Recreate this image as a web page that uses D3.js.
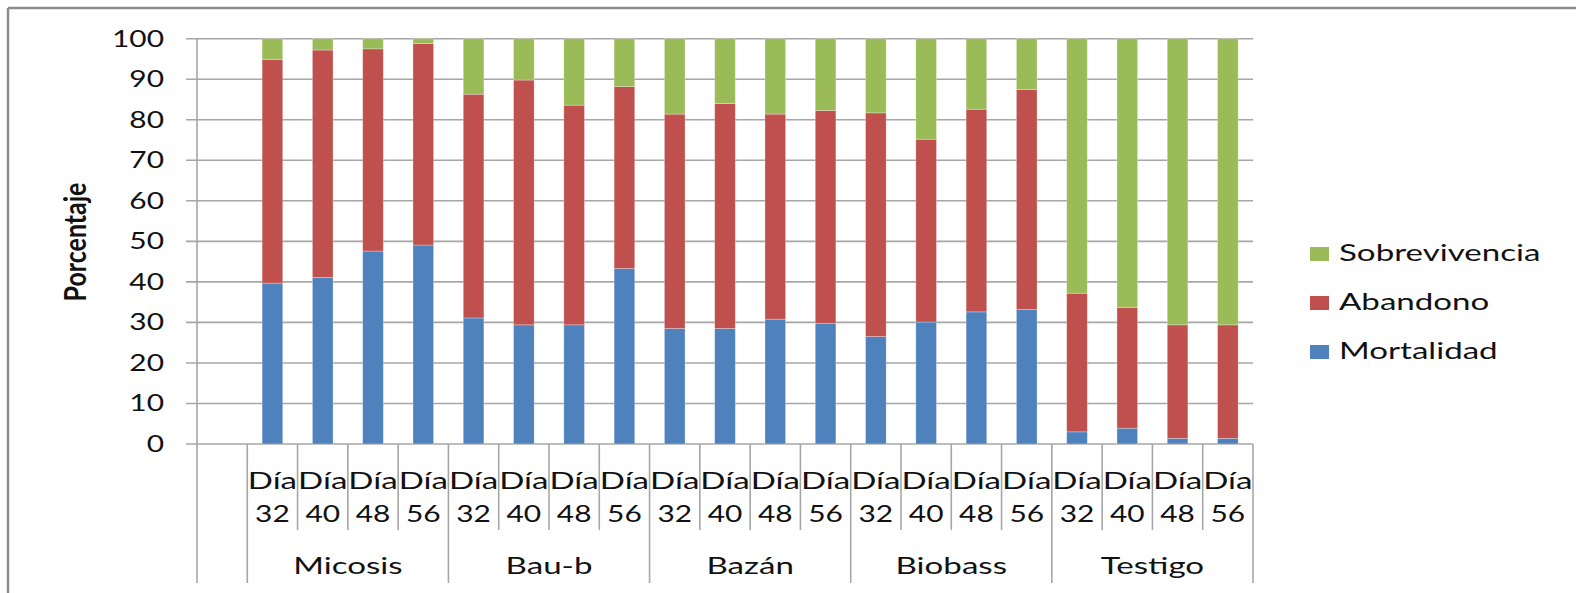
<!DOCTYPE html>
<html lang="es">
<head>
    <meta charset="UTF-8" />
    <title>Porcentaje por tratamiento</title>
    <script src="https://d3js.org/d3.v7.min.js"></script>
    <style>
        body { margin: 0; background: #fff; }
        text { font-family: Lato, "Liberation Sans", sans-serif; fill: #111; }
    </style>
</head>
<body>
    <script>
        // data
        const groups = ["Micosis", "Bau-b", "Bazán", "Biobass", "Testigo"];
        const days = ["32", "40", "48", "56"];
        const seriesNames = ["Mortalidad", "Abandono", "Sobrevivencia"];
        const mortalidad = [39.7, 41.1, 47.6, 49.1, 31.1, 29.4, 29.4, 43.3, 28.5, 28.5, 30.8, 29.8, 26.5, 30.1, 32.6, 33.2, 3.0, 3.9, 1.4, 1.4];
        const abandono = [55.2, 56.1, 49.9, 49.7, 55.2, 60.4, 54.2, 44.9, 52.9, 55.5, 50.6, 52.5, 55.2, 45.1, 50.0, 54.3, 34.2, 29.8, 28.0, 28.0];
        const sobrevivencia = [5.1, 2.8, 2.5, 1.2, 13.7, 10.2, 16.4, 11.8, 18.6, 16.0, 18.6, 17.7, 18.3, 24.8, 17.4, 12.5, 62.8, 66.3, 70.6, 70.6];
        const yTicks = [0, 10, 20, 30, 40, 50, 60, 70, 80, 90, 100];
        const colors = ["#4f81bd", "#c0504d", "#9bbb59"];

        const W = 1576, H = 593;
        const SX = 1.3;   // the original picture is stretched sideways (digits)
        const SXW = 1.44; // same, for words (Lato runs narrower than the original face)
        const grid = "#a6a6a6";

        // rows for the stack
        const rows = [];
        groups.forEach((g, gi) => days.forEach((d, di) => {
            const i = gi * days.length + di;
            rows.push({ key: g + "|" + d, group: g, day: d,
                Mortalidad: mortalidad[i], Abandono: abandono[i], Sobrevivencia: sobrevivencia[i] });
        }));
        const slots = ["blank"].concat(rows.map(r => r.key));

        const x = d3.scaleBand().domain(slots).range([197, 1253]).padding(0);
        const y = d3.scaleLinear().domain([0, 100]).range([444, 38.7]);
        const color = d3.scaleOrdinal().domain(seriesNames).range(colors);
        const barW = x.bandwidth() * 0.41;

        const svg = d3.select("body").append("svg")
            .attr("width", W).attr("height", H);

        // cropped outer frame (top and left only)
        svg.append("line").attr("x1", 8).attr("x2", W).attr("y1", 8).attr("y2", 8)
            .attr("stroke", "#8c8c8c").attr("stroke-width", 2.5);
        svg.append("line").attr("x1", 8).attr("x2", 8).attr("y1", 8).attr("y2", H)
            .attr("stroke", "#8c8c8c").attr("stroke-width", 2.5);

        // gridlines + ticks
        svg.append("g").selectAll("line").data(yTicks).join("line")
            .attr("x1", 186).attr("x2", x.range()[1])
            .attr("y1", d => y(d)).attr("y2", d => y(d))
            .attr("stroke", grid).attr("stroke-width", 1.6);

        svg.append("g").selectAll("text").data(yTicks).join("text")
            .attr("transform", d => `translate(164,${y(d) + 8}) scale(${SX},1)`)
            .attr("text-anchor", "end")
            .style("font-size", "23px")
            .text(d => d);

        svg.append("line").attr("x1", x.range()[0]).attr("x2", x.range()[0])
            .attr("y1", y(100)).attr("y2", y(0)).attr("stroke", grid).attr("stroke-width", 1.6);

        // y title
        svg.append("text")
            .attr("transform", `translate(86,242) rotate(-90) scale(1.04,${SX})`)
            .attr("text-anchor", "middle")
            .style("font-size", "24px").style("font-weight", "bold")
            .text("Porcentaje");

        // stacked bars
        const stack = d3.stack().keys(seriesNames)(rows);
        svg.append("g").selectAll("g").data(stack).join("g")
            .attr("fill", d => color(d.key))
            .selectAll("rect").data(d => d).join("rect")
            .attr("x", d => x(d.data.key) + (x.bandwidth() - barW) / 2)
            .attr("width", barW)
            .attr("y", d => y(d[1]))
            .attr("height", d => y(d[0]) - y(d[1]))
            .attr("stroke", "rgba(255,255,255,0.35)").attr("stroke-width", 0.8);

        // category dividers: short for days, long for groups
        const bounds = slots.map((s, i) => ({ x: x(s), long: i === 0 || i === 1 || (i - 1) % days.length === 0 }));
        bounds.push({ x: x.range()[1], long: true });
        svg.append("g").selectAll("line").data(bounds).join("line")
            .attr("x1", d => d.x).attr("x2", d => d.x)
            .attr("y1", y(0)).attr("y2", d => d.long ? 583 : 530)
            .attr("stroke", grid).attr("stroke-width", 1.6);

        // day labels (two lines)
        const dayLab = svg.append("g").selectAll("g").data(rows).join("g")
            .attr("transform", d => `translate(${x(d.key) + x.bandwidth() / 2},0)`);
        dayLab.append("text")
            .attr("transform", `translate(0,489) scale(${SXW},1)`)
            .attr("text-anchor", "middle").style("font-size", "23px")
            .text("Día");
        dayLab.append("text")
            .attr("transform", `translate(0,522) scale(${SX},1)`)
            .attr("text-anchor", "middle").style("font-size", "23px")
            .text(d => d.day);

        // group labels
        svg.append("g").selectAll("text").data(groups).join("text")
            .attr("transform", g => {
                const first = x(g + "|" + days[0]);
                const last = x(g + "|" + days[days.length - 1]) + x.bandwidth();
                return `translate(${(first + last) / 2},574) scale(${SXW},1)`;
            })
            .attr("text-anchor", "middle").style("font-size", "23px")
            .text(g => g);

        // legend (top entry is the top of the stack)
        const legendItems = seriesNames.slice().reverse();
        const leg = svg.append("g").selectAll("g").data(legendItems).join("g")
            .attr("transform", (d, i) => `translate(1310,${247 + i * 49})`);
        leg.append("rect").attr("width", 19).attr("height", 14)
            .attr("fill", d => color(d));
        leg.append("text")
            .attr("transform", `translate(29,14) scale(${SXW},1)`)
            .style("font-size", "23px")
            .text(d => d);
    </script>
</body>
</html>
